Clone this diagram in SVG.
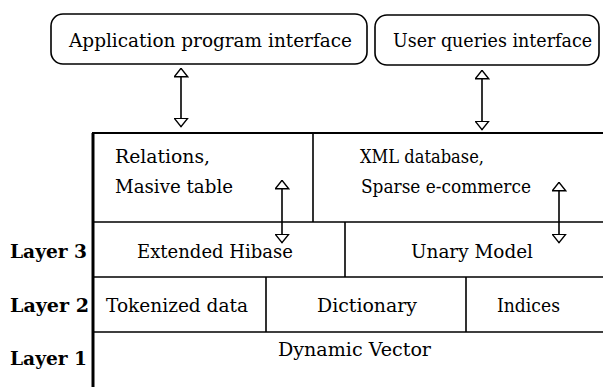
<svg xmlns="http://www.w3.org/2000/svg" width="603" height="387" viewBox="0 0 603 387">
<style>
  .t { font-family: "DejaVu Serif", "Liberation Serif", serif; font-size: 18px; fill: #000; }
  .b { font-weight: bold; }
  .box { fill: #fff; stroke: #000; stroke-width: 1.6; }
  .grid { stroke: #000; fill: none; }
  .arr { stroke: #000; stroke-width: 1.6; fill: none; marker-start: url(#head); marker-end: url(#head); }
</style>
<defs>
  <marker id="head" markerUnits="userSpaceOnUse" viewBox="0 0 10 15" refX="9.5" refY="7.5" markerWidth="10" markerHeight="15" orient="auto-start-reverse">
    <path d="M0.8,0.8 L9.2,7.5 L0.8,14.2 Z" fill="#fff" stroke="#000" stroke-width="1.4"/>
  </marker>
</defs>
<rect width="603" height="387" fill="#fff"/>

<g id="api">
  <rect class="box" x="51" y="14" width="316" height="50" rx="12"/>
  <text class="t" x="69" y="47" textLength="283" lengthAdjust="spacingAndGlyphs">Application program interface</text>
</g>
<g id="uqi">
  <rect class="box" x="375" y="15" width="224" height="50" rx="12"/>
  <text class="t" x="393" y="47" textLength="199" lengthAdjust="spacingAndGlyphs">User queries interface</text>
</g>

<g id="grid" class="grid">
  <path d="M92,133 H603" stroke-width="2.2"/>
  <path d="M93,133 V387" stroke-width="3"/>
  <path d="M93,222 H603 M93,277 H603 M93,332 H603" stroke-width="1.6"/>
  <path d="M313,133 V222 M345,222 V277 M266,277 V332 M466,277 V332" stroke-width="1.6"/>
</g>

<g id="relations">
  <text class="t" x="115" y="163" textLength="95" lengthAdjust="spacingAndGlyphs">Relations,</text>
  <text class="t" x="115" y="193" textLength="118" lengthAdjust="spacingAndGlyphs">Masive table</text>
</g>
<g id="xml">
  <text class="t" x="360" y="163" textLength="124" lengthAdjust="spacingAndGlyphs">XML database,</text>
  <text class="t" x="361" y="193" textLength="170" lengthAdjust="spacingAndGlyphs">Sparse e-commerce</text>
</g>
<g id="layer3">
  <text class="t b" x="10" y="258" textLength="77" lengthAdjust="spacingAndGlyphs">Layer 3</text>
</g>
<g id="hibase">
  <text class="t" x="137" y="258" textLength="156" lengthAdjust="spacingAndGlyphs">Extended Hibase</text>
</g>
<g id="unary">
  <text class="t" x="411" y="258" textLength="122" lengthAdjust="spacingAndGlyphs">Unary Model</text>
</g>
<g id="layer2">
  <text class="t b" x="10" y="312" textLength="79" lengthAdjust="spacingAndGlyphs">Layer 2</text>
</g>
<g id="tokenized">
  <text class="t" x="106" y="312" textLength="142" lengthAdjust="spacingAndGlyphs">Tokenized data</text>
</g>
<g id="dictionary">
  <text class="t" x="317" y="312" textLength="100" lengthAdjust="spacingAndGlyphs">Dictionary</text>
</g>
<g id="indices">
  <text class="t" x="497" y="312" textLength="63" lengthAdjust="spacingAndGlyphs">Indices</text>
</g>
<g id="layer1">
  <text class="t b" x="10" y="365" textLength="77" lengthAdjust="spacingAndGlyphs">Layer 1</text>
</g>
<g id="vector">
  <text class="t" x="278" y="356" textLength="153" lengthAdjust="spacingAndGlyphs">Dynamic Vector</text>
</g>

<g id="connectors">
  <path class="arr" d="M181,68 V127"/>
  <path class="arr" d="M482,70 V130"/>
  <path class="arr" d="M282,180 V243"/>
  <path class="arr" d="M559,182 V243"/>
</g>
</svg>
